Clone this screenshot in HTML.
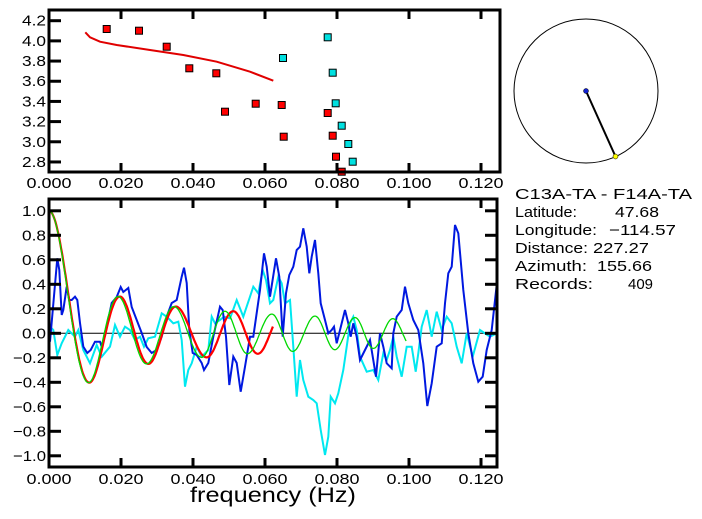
<!DOCTYPE html>
<html><head><meta charset="utf-8"><style>
html,body{margin:0;padding:0;background:#fff;}
svg{display:block;font-family:"Liberation Sans",sans-serif;}
</style></head><body>
<svg id="s" width="702" height="519" viewBox="0 0 702 519" xmlns="http://www.w3.org/2000/svg">
<rect width="702" height="519" fill="#fff"/>
<g id="g"></g>
<circle cx="586" cy="91" r="72" fill="none" stroke="#000" stroke-width="1"/>
<line x1="586" y1="91" x2="615.5" y2="156.5" stroke="#000" stroke-width="2"/>
<circle cx="586" cy="91" r="2.5" fill="#1020d0" stroke="#000" stroke-width="0.5"/>
<circle cx="615.5" cy="156.5" r="2.5" fill="#ffff00" stroke="#000" stroke-width="0.5"/>
<g font-size="15" fill="#000">
<text x="515" y="199" textLength="177" lengthAdjust="spacingAndGlyphs">C13A-TA  -  F14A-TA</text>
<text x="515" y="217" textLength="62" lengthAdjust="spacingAndGlyphs">Latitude:</text><text x="615" y="217" textLength="44" lengthAdjust="spacingAndGlyphs">47.68</text>
<text x="515" y="235" textLength="82" lengthAdjust="spacingAndGlyphs">Longitude:</text><text x="609" y="235" textLength="67" lengthAdjust="spacingAndGlyphs">−114.57</text>
<text x="515" y="253" textLength="73" lengthAdjust="spacingAndGlyphs">Distance:</text><text x="593" y="253" textLength="56" lengthAdjust="spacingAndGlyphs">227.27</text>
<text x="515" y="271" textLength="72" lengthAdjust="spacingAndGlyphs">Azimuth:</text><text x="597" y="271" textLength="55" lengthAdjust="spacingAndGlyphs">155.66</text>
<text x="515" y="289" textLength="78" lengthAdjust="spacingAndGlyphs">Records:</text><text x="628" y="289" textLength="25" lengthAdjust="spacingAndGlyphs">409</text>
</g>
<text x="190" y="502" font-size="21" textLength="166" lengthAdjust="spacingAndGlyphs">frequency (Hz)</text>
</svg>
<script>
var NS="http://www.w3.org/2000/svg",G=document.getElementById("g");
function el(t,a,txt){var e=document.createElementNS(NS,t);for(var k in a)e.setAttribute(k,a[k]);if(txt!==undefined)e.textContent=txt;G.appendChild(e);return e;}
function X(f){return 49+f*3600;}
function pts(a){return a.map(function(p){return p[0].toFixed(1)+","+p[1].toFixed(1)}).join(" ");}
var tT=10,tB=172,L=49,R=500;
function YT(v){return 20.7+(4.2-v)*100.9;}
el("polyline",{points:pts([[85.3,32.3],[90,37.3],[100,41.7],[116.7,45],[150,50],[183.3,55],[216.7,61.7],[250,71.7],[273.3,80.7]]),fill:"none",stroke:"#e00000","stroke-width":2});
var red=[[106.7,29],[139,30.7],[166.7,46.7],[189.3,68.3],[216.3,73.3],[225,111.7],[255.7,103.7],[281.7,105],[283.7,136.7],[327.7,113],[332.7,135.7],[336,156.7],[341.7,171.7]];
var cyan=[[283,58],[327.7,37.3],[332.7,72.7],[335.7,103.3],[341.7,125.7],[348.3,144],[352.7,161.7]];
function sq(p,c){el("rect",{x:p[0]-3.5,y:p[1]-3.5,width:7,height:7,fill:c,stroke:"#000","stroke-width":1});}
red.forEach(function(p){sq(p,"#ff0000")});cyan.forEach(function(p){sq(p,"#00e0e0")});
el("rect",{x:L,y:tT,width:R-L,height:tB-tT,fill:"none",stroke:"#000","stroke-width":3});
function xl(x,y,s){el("text",{x:x-22.5,y:y,"font-size":15,textLength:45,lengthAdjust:"spacingAndGlyphs"},s);}
function yl(y,s){var w=s.length>3?33:24;el("text",{x:46-w,y:y+5,"font-size":15,textLength:w,lengthAdjust:"spacingAndGlyphs"},s);}
for(var i=0;i<=6;i++){var x=X(i*0.02);if(i>0){el("line",{x1:x,y1:tT,x2:x,y2:tT+9,stroke:"#000","stroke-width":3});el("line",{x1:x,y1:tB,x2:x,y2:tB-9,stroke:"#000","stroke-width":3});}
xl(x,188,(i*0.02).toFixed(3));}
for(var v=2.8;v<=4.21;v+=0.2){var y=YT(v);el("line",{x1:L,y1:y,x2:L+12,y2:y,stroke:"#000","stroke-width":3});yl(y,v.toFixed(1));}
var bT=199,bB=467;
function YB(v){return 333.3-v*122.5;}
el("line",{x1:L,y1:333.3,x2:R-3,y2:333.3,stroke:"#000","stroke-width":1});
function J0(x){var n=300,s=0;for(var k=0;k<n;k++){var t=Math.PI*(k+0.5)/n;s+=Math.cos(x*Math.sin(t));}return s/n;}
function interp(kn,f){for(var i=1;i<kn.length;i++){if(f<=kn[i][0]||i==kn.length-1){var a=kn[i-1],b=kn[i];return a[1]+(b[1]-a[1])*(f-a[0])/(b[0]-a[0]);}}}
function bes(kn,f1,col,w){var p=[];for(var f=0;f<=f1;f+=0.0002){p.push([X(f),YB(J0(interp(kn,f)))]);}el("polyline",{points:pts(p),fill:"none",stroke:col,"stroke-width":w});}
var blue=[[50,341.7],[57.3,258.3],[59.3,270],[61.7,315],[63.3,310],[66.7,286.7],[69.3,300],[71.7,300],[75,296.7],[77.3,300],[80,323],[83.3,346.7],[87.3,353],[90.7,350],[95,341.7],[100,341.7],[101.7,346.7],[106,330],[111.7,303],[116.7,297],[120.7,287],[123.3,292],[128.3,288],[131.7,307],[136.7,320],[141.7,333],[146.7,347],[151.7,353],[156.7,350],[161.7,336.7],[166.7,316.7],[171.7,303],[176.7,300],[181.7,276.7],[184,267.7],[186.7,283],[189.3,330],[192.7,353],[196.7,355],[201.7,363],[204,370],[208.3,363],[213.3,336.7],[220,306.7],[222.7,310],[226,336.7],[229.3,385],[233.3,356.7],[236.7,363],[240.7,391.7],[245,366.7],[250,336.7],[253.3,336.7],[260,290],[264,253.3],[266.7,266.7],[270,296.7],[276,258.3],[279.3,276.7],[282.7,336.7],[286,293.3],[289.3,275],[293.3,266.7],[296.7,250],[300,246.7],[303.3,228.3],[306.7,246.7],[309.3,273.3],[311.7,256.7],[315,240],[318.3,273.3],[320.7,303.3],[325,320],[328.3,333.3],[331.7,330],[334,326.7],[336.7,343.3],[341.7,323.3],[345,310],[348.3,323.3],[350.7,336.7],[353.3,323.3],[356.7,336.7],[360,360],[365,350],[370,340],[376,376.7],[380,333.3],[383.3,346.7],[386.7,363.3],[391.7,368.3],[393.3,333.3],[396.7,316.7],[401.7,310],[405,286.7],[408.3,303.3],[413.3,320],[418.3,330],[423.3,363.3],[427.3,406],[431.7,383.3],[436.7,346.7],[441.7,343.3],[445,303.3],[448.3,273.3],[451.7,266.7],[455,225],[458.3,233.3],[463.3,290],[468.3,333.3],[473.3,363.3],[478.3,381.7],[482.7,376.7],[486.7,350],[491.7,330],[496.7,285]];
var cy=[[50,326.7],[53.3,330],[57.3,355],[61.7,343.3],[68.3,330],[75,336.7],[78.3,330],[83.3,350],[90,363.3],[96.7,345],[101.7,356.7],[110,346.7],[115,325],[120,336.7],[125,326.7],[130,330],[135,340],[140,336.7],[144,346.7],[148.3,338.3],[155,336.7],[161.7,313.3],[166.7,316.7],[173.3,323.3],[178.3,321.7],[181.7,340],[185,386.7],[188.3,370],[191.7,363.3],[196.7,346.7],[201.7,356.7],[208.3,350],[211.7,316.7],[215,323.3],[220,320],[224,316.7],[230,318.3],[236.7,300],[243.3,316.7],[250,296.7],[253.3,286.7],[258.3,293.3],[262.7,270],[266,280],[270,303.3],[273.3,300],[278.3,276.7],[281.7,283.3],[285,303.3],[290,300],[293.3,346.7],[296.7,396.7],[300,360],[303.3,380],[308.3,396.7],[313.3,400],[316.7,403.3],[320.7,430],[325,455],[328.3,436.7],[330.7,396.7],[335,403.3],[338.3,393.3],[343.3,370],[346.7,346.7],[350,323.3],[353.3,316.7],[356.7,330],[360,356.7],[366.7,371.7],[373.3,370],[378.3,380],[383.3,353.3],[386.7,360],[390,350],[393.3,336.7],[396.7,356.7],[401.7,376.7],[406.7,346.7],[411.7,346.7],[415.7,371.7],[418.3,353.3],[421.7,326.7],[426.7,310],[431.7,336.7],[436.7,311.7],[441.7,330],[446.7,316.7],[451.7,323.3],[456.7,346.7],[461.7,363.3],[466.7,333.3],[472.7,356.7],[480,330],[490,336.7],[496.7,333.3]];
el("polyline",{points:pts(cy),fill:"none",stroke:"#00e8f0","stroke-width":2});
el("polyline",{points:pts(blue),fill:"none",stroke:"#0018e0","stroke-width":2});
var gk=[[0,0],[0.011,3.832],[0.0192,7.016],[0.0271,10.17],[0.0347,13.32],[0.0424,16.47],[0.0489,19.62],[0.0551,22.76],[0.0619,25.9],[0.0677,29.05],[0.0739,32.19],[0.0794,35.33],[0.085,38.47],[0.0901,41.62],[0.0955,44.76]];
var rk=[[0,0],[0.0112,3.832],[0.0197,7.016],[0.0276,10.17],[0.0352,13.32],[0.0438,16.47],[0.0512,19.62],[0.058,22.76]];
bes(rk,0.0623,"#ff0000",2.2);
bes(gk,0.0994,"#00d800",1.3);
el("rect",{x:L,y:bT,width:R-3-L,height:bB-bT,fill:"none",stroke:"#000","stroke-width":3});
for(var i=0;i<=6;i++){var x=X(i*0.02);if(i>0){el("line",{x1:x,y1:bT,x2:x,y2:bT+9,stroke:"#000","stroke-width":3});el("line",{x1:x,y1:bB,x2:x,y2:bB-9,stroke:"#000","stroke-width":3});}
xl(x,484,(i*0.02).toFixed(3));}
for(var k=-5;k<=5;k++){var v=k*0.2,y=YB(v);el("line",{x1:L,y1:y,x2:L+12,y2:y,stroke:"#000","stroke-width":3});el("line",{x1:R-3,y1:y,x2:R-15,y2:y,stroke:"#000","stroke-width":3});
yl(y,(v<0?"\u2212":"")+Math.abs(v).toFixed(1));}
</script>
</body></html>
